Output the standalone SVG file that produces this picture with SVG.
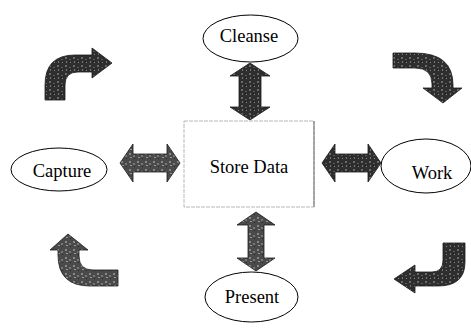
<svg xmlns="http://www.w3.org/2000/svg" width="471" height="329" viewBox="0 0 471 329">
<defs>
<pattern id="mottle" width="8" height="8" patternUnits="userSpaceOnUse">
<rect width="8" height="8" fill="#2e2e2e"/>
<rect x="1" y="1" width="2" height="2" fill="#6a6a6a"/>
<rect x="5" y="3" width="2" height="1" fill="#5a5a5a"/>
<rect x="2" y="5" width="1" height="2" fill="#777"/>
<rect x="6" y="6" width="1" height="1" fill="#888"/>
</pattern>
<pattern id="mottle2" width="8" height="8" patternUnits="userSpaceOnUse">
<rect width="8" height="8" fill="#4a4a4a"/>
<rect x="1" y="1" width="2" height="2" fill="#888"/>
<rect x="5" y="3" width="2" height="2" fill="#777"/>
<rect x="2" y="5" width="2" height="1" fill="#999"/>
<rect x="6" y="6" width="1" height="1" fill="#2a2a2a"/>
</pattern>
</defs>
<style>
.node ellipse{fill:#fff;stroke:#000;stroke-width:1}
.box{fill:#fff;stroke:#b8b8b8;stroke-width:1;stroke-dasharray:4 1}
.edge{stroke:#6a6a6a;stroke-width:1}
.lbl{font-family:"Liberation Serif","Times New Roman",serif;font-size:18.5px;fill:#000;text-anchor:middle}
.arr{fill:url(#mottle);stroke:#1a1a1a;stroke-width:0.8}
.arr2{fill:url(#mottle2);stroke:#1a1a1a;stroke-width:0.8}
</style>
<g id="connectors">
<polygon class="arr2" points="120,163 133,144 133,154 167,154 167,144 180,163 167,182 167,172 133,172 133,182"/>
<polygon class="arr" points="322,163 335,144 335,154 368,154 368,144 381,163 368,182 368,172 335,172 335,182"/>
<polygon class="arr" points="250,63 270,76 261,76 261,107 270,107 250,120 230,107 239,107 239,76 230,76"/>
<polygon class="arr2" points="256,212 275,225 264,225 264,258 275,258 256,271 237,258 248,258 248,225 237,225"/>
<path class="arr" d="M45,100 L45,85 Q45,55 75,55 L92,55 L92,48 L112,63 L92,78 L92,72 L78,72 Q65,72 65,85 L65,100 Z"/>
<path class="arr" d="M393,53 L415,53 Q453,53 453,85 L453,88 L462,88 L443,103 L423,88 L432,88 L432,84 Q432,68 415,68 L393,68 Z"/>
<path class="arr2" d="M118,286 L90,286 Q58,286 58,255 L58,250 L50,250 L68,234 L88,250 L79,250 L79,256 Q79,270 93,270 L118,270 Z"/>
<path class="arr" d="M443,243 L465,243 L465,262 Q465,286 438,286 L415,286 L415,293 L394,279 L415,265 L415,272 L432,272 Q443,272 443,260 Z"/>
</g>
<g id="cleanse" class="node">
<ellipse cx="250.5" cy="38.5" rx="47.5" ry="23.5"/>
<text class="lbl" x="249" y="42">Cleanse</text>
</g>
<g id="capture" class="node">
<ellipse cx="59" cy="169.5" rx="48" ry="21.5"/>
<text class="lbl" x="62" y="177">Capture</text>
</g>
<g id="store-data" class="node">
<rect class="box" x="184" y="121" width="130" height="86"/>
<line class="edge" x1="314" y1="121" x2="314" y2="207"/>
<text class="lbl" x="249" y="173">Store Data</text>
</g>
<g id="work" class="node">
<ellipse cx="426" cy="166" rx="45" ry="27"/>
<text class="lbl" x="432" y="179">Work</text>
</g>
<g id="present" class="node">
<ellipse cx="251.5" cy="297" rx="46.5" ry="25"/>
<text class="lbl" x="252" y="303">Present</text>
</g>
</svg>
